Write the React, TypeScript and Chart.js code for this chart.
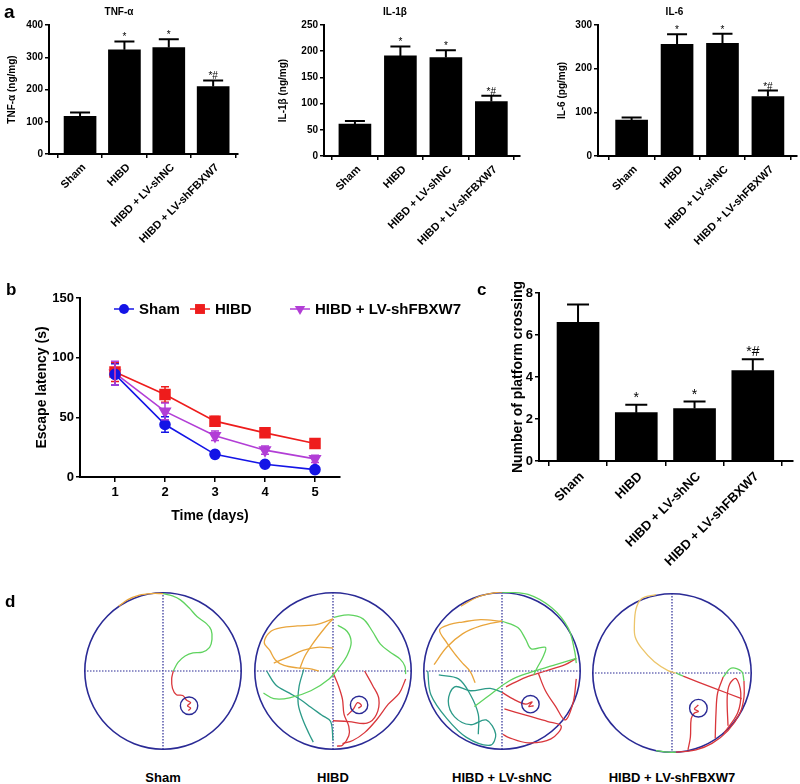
import React, { useEffect, useRef } from 'react';
import { Chart, registerables } from 'chart.js';

Chart.register(...registerables);

const FONT = "'Liberation Sans', Arial, Helvetica, sans-serif";
Chart.defaults.font.family = FONT;
Chart.defaults.color = '#000';

// ---------------- data ----------------
const groups = ['Sham', 'HIBD', 'HIBD + LV-shNC', 'HIBD + LV-shFBXW7'];
const sigMarks = ['', '*', '*', '*#'];

const tnfMean = [117, 323, 330, 209];
const tnfSem = [12, 26, 26, 19];
const il1Mean = [61, 191, 188, 104];
const il1Sem = [6, 18, 14, 11];
const il6Mean = [82, 256, 258, 136];
const il6Sem = [6, 23, 22, 14];

const days = [1, 2, 3, 4, 5];
const latencySeries = ['Sham', 'HIBD', 'HIBD + LV-shFBXW7'];
const shamLatency = [86, 44, 19, 10.7, 6.2];
const shamLatencySem = [9, 6.5, 1.5, 1.5, 1];
const hibdLatency = [88, 69.2, 46.8, 37, 28];
const hibdLatencySem = [8, 6.5, 4, 3, 3.5];
const fbxLatency = [87, 55, 34.5, 22.5, 15.2];
const fbxLatencySem = [10, 7, 4, 3.5, 3];

const crossMean = [6.6, 2.3, 2.5, 4.3];
const crossSem = [0.85, 0.38, 0.33, 0.55];

// swim tracks (normalised pool coordinates, radius 1)
const shamOrange = [[-0.56, 0.82], [-0.45, 0.9], [-0.3, 0.96], [-0.15, 0.98], [0, 0.98]];
const shamGreen = [[0, 0.98], [0.12, 0.95], [0.22, 0.9], [0.33, 0.8], [0.43, 0.69], [0.55, 0.6], [0.61, 0.52], [0.62, 0.4], [0.59, 0.3], [0.5, 0.24], [0.38, 0.23], [0.28, 0.19], [0.19, 0.11], [0.13, 0]];
const shamRed = [[0.13, 0], [0.11, -0.1], [0.12, -0.22], [0.17, -0.3], [0.25, -0.31], [0.3, -0.37], [0.35, -0.4], [0.31, -0.44], [0.35, -0.47], [0.32, -0.5]];
const shamTarget = [0.33, -0.44];

const hibdOrangeA = [[0, 0.66], [-0.2, 0.59], [-0.45, 0.57], [-0.65, 0.55], [-0.79, 0.5], [-0.87, 0.36], [-0.8, 0.26], [-0.73, 0.14], [-0.62, 0.07], [-0.45, 0.04], [-0.3, 0.03], [-0.18, 0]];
const hibdOrangeB = [[-0.75, 0.1], [-0.56, 0.18], [-0.38, 0.26], [-0.2, 0.3], [0, 0.29]];
const hibdOrangeC = [[-0.42, 0.03], [-0.36, 0.18], [-0.26, 0.34], [-0.14, 0.5], [-0.04, 0.62], [0, 0.66]];
const hibdGreenA = [[0.01, 0.68], [0.2, 0.71], [0.38, 0.66], [0.5, 0.5], [0.6, 0.34], [0.72, 0.24], [0.85, 0.15], [0.91, 0.06], [0.92, -0.04]];
const hibdGreenB = [[0.06, 0.58], [0.18, 0.5], [0.23, 0.36], [0.18, 0.2], [0.08, 0.05], [-0.05, -0.1], [-0.28, -0.25], [-0.55, -0.34], [-0.75, -0.35], [-0.88, -0.28]];
const hibdTealA = [[-0.84, 0], [-0.72, -0.18], [-0.55, -0.28], [-0.4, -0.37], [-0.28, -0.46], [-0.14, -0.56], [-0.03, -0.64], [0, -0.88]];
const hibdTealB = [[-0.37, 0.02], [-0.43, -0.2], [-0.44, -0.42], [-0.38, -0.62], [-0.3, -0.8], [-0.25, -0.9]];
const hibdRedA = [[0, -0.02], [0.07, -0.19], [0.12, -0.36], [0.14, -0.55], [0.2, -0.7], [0.2, -0.82], [0.12, -0.94], [0.05, -0.95]];
const hibdRedB = [[0, -0.63], [0.2, -0.64], [0.43, -0.66], [0.55, -0.55], [0.58, -0.35], [0.5, -0.18], [0.4, 0]];
const hibdRedC = [[0.92, -0.1], [0.84, -0.28], [0.7, -0.42], [0.55, -0.62], [0.4, -0.78], [0.25, -0.88], [0.12, -0.92]];
const hibdRedD = [[0.18, -0.56], [0.26, -0.48], [0.31, -0.4], [0.36, -0.44], [0.32, -0.47]];
const hibdTarget = [0.33, -0.43];

const ncOrangeA = [[-0.52, 0.82], [-0.3, 0.94], [-0.1, 0.99], [0, 1]];
const ncOrangeB = [[0, 0.63], [-0.27, 0.65], [-0.5, 0.62], [-0.66, 0.59], [-0.79, 0.52], [-0.7, 0.36], [-0.6, 0.22], [-0.5, 0.1], [-0.4, -0.01], [-0.34, -0.15]];
const ncOrangeC = [[0, 0.63], [-0.27, 0.57], [-0.5, 0.47], [-0.7, 0.3], [-0.86, 0.08]];
const ncGreenA = [[0, 1], [0.33, 0.97], [0.63, 0.8], [0.84, 0.54], [0.92, 0.25], [0.94, 0.1]];
const ncGreenB = [[0, 0.63], [0.2, 0.55], [0.3, 0.4], [0.37, 0.28], [0.55, 0.3], [0.52, 0.18], [0.45, 0.05], [0.4, -0.05]];
const ncGreenC = [[0.94, 0.16], [0.65, 0.07], [0.35, -0.02], [0.1, -0.12], [-0.15, -0.3], [-0.35, -0.45]];
const ncTealA = [[-0.94, 0], [-0.9, -0.3], [-0.7, -0.6], [-0.45, -0.84], [-0.15, -0.94], [-0.08, -0.8], [-0.2, -0.62], [-0.4, -0.68], [-0.6, -0.58], [-0.68, -0.38], [-0.6, -0.2], [-0.4, -0.25], [-0.15, -0.22], [0, -0.27]];
const ncTealB = [[-0.8, -0.05], [-0.55, -0.1], [-0.4, -0.3], [-0.3, -0.55], [-0.3, -0.8]];
const ncRedA = [[0, -0.27], [0.15, -0.36], [0.3, -0.42], [0.38, -0.39], [0.34, -0.45], [0.4, -0.44]];
const ncRedB = [[0.46, -0.03], [0.55, -0.25], [0.68, -0.45], [0.8, -0.62], [0.9, -0.4], [0.94, -0.1]];
const ncRedC = [[0.03, -0.48], [0.3, -0.56], [0.58, -0.64], [0.75, -0.7], [0.62, -0.86], [0.33, -0.91], [0.08, -0.84], [0.01, -0.8]];
const ncRedD = [[0.05, -0.2], [0.3, -0.08], [0.55, 0], [0.8, 0.08], [0.94, 0.16]];
const ncTarget = [0.36, -0.42];

const fbOrange = [[-0.2, 0.98], [-0.38, 0.93], [-0.45, 0.8], [-0.47, 0.6], [-0.46, 0.45], [-0.38, 0.31], [-0.22, 0.14], [-0.05, 0.03], [0.05, 0]];
const fbGreenA = [[0.05, 0], [0.14, -0.04]];
const fbRedA = [[0.14, -0.04], [0.5, -0.18], [0.87, -0.32]];
const fbRedB = [[0.54, -0.82], [0.55, -0.5], [0.57, -0.25], [0.64, -0.05]];
const fbGreenB = [[0.64, -0.05], [0.74, 0.06], [0.87, 0.02], [0.9, -0.1]];
const fbRedC = [[0.9, -0.1], [0.9, -0.3], [0.85, -0.5], [0.7, -0.72], [0.5, -0.88], [0.3, -0.96], [0.05, -0.99]];
const fbRedD = [[0.7, -0.66], [0.69, -0.3], [0.72, -0.14], [0.8, -0.07], [0.86, -0.25], [0.82, -0.5], [0.65, -0.75]];
const fbRedE = [[0.33, -0.4], [0.28, -0.45], [0.33, -0.48], [0.28, -0.5], [0.24, -0.57], [0.23, -0.8], [0.2, -0.96]];
const fbGreenC = [[-0.2, -0.97], [-0.05, -0.99], [0.05, -0.99]];
const fbTarget = [0.33, -0.44];
const targetRadius = 0.11;

// ---------------- styles ----------------
const BLUE = '#1414e6';
const RED = '#ee1c1c';
const PURPLE = '#b23ed6';
const NAVY = '#2a2a95';
const ORANGE = '#e9a53c';
const PALE = '#ecc56a';
const GREEN = '#5fd35f';
const TEAL = '#2c9a88';
const TRACKRED = '#d9363b';

const bold = (size: number) => ({ family: FONT, size, weight: 'bold' as const });

// ---------------- plugins ----------------
const barErrPlugin = {
  id: 'barErr',
  afterDatasetsDraw(chart: any, _a: any, opts: any) {
    if (!opts || !opts.sem) return;
    const ctx = chart.ctx;
    const ys = chart.scales.y;
    const meta = chart.getDatasetMeta(0);
    const data = chart.data.datasets[0].data;
    ctx.save();
    ctx.strokeStyle = '#000';
    ctx.fillStyle = '#000';
    ctx.lineWidth = opts.lineWidth;
    meta.data.forEach((bar: any, i: number) => {
      const top = ys.getPixelForValue(data[i].y + opts.sem[i]);
      const x = bar.x;
      ctx.beginPath();
      ctx.moveTo(x, bar.y);
      ctx.lineTo(x, top);
      ctx.moveTo(x - opts.cap, top);
      ctx.lineTo(x + opts.cap, top);
      ctx.stroke();
      const m = opts.marks[i];
      if (m) {
        ctx.font = `${opts.markFont}px ${FONT}`;
        ctx.textAlign = 'center';
        ctx.textBaseline = 'alphabetic';
        ctx.fillText(m, x, top - opts.markGap);
      }
    });
    ctx.restore();
  },
};

const lineErrPlugin = {
  id: 'lineErr',
  afterDatasetsDraw(chart: any, _a: any, opts: any) {
    if (!opts || !opts.sems) return;
    const ctx = chart.ctx;
    const ys = chart.scales.y;
    ctx.save();
    chart.data.datasets.forEach((ds: any, di: number) => {
      const meta = chart.getDatasetMeta(di);
      ctx.strokeStyle = ds.borderColor;
      ctx.lineWidth = 1.5;
      meta.data.forEach((pt: any, i: number) => {
        const v = ds.data[i].y;
        const s = opts.sems[di][i];
        const t = ys.getPixelForValue(v + s);
        const b = ys.getPixelForValue(v - s);
        ctx.beginPath();
        ctx.moveTo(pt.x, t);
        ctx.lineTo(pt.x, b);
        ctx.moveTo(pt.x - opts.cap, t);
        ctx.lineTo(pt.x + opts.cap, t);
        ctx.moveTo(pt.x - opts.cap, b);
        ctx.lineTo(pt.x + opts.cap, b);
        ctx.stroke();
      });
    });
    ctx.restore();
  },
};

function drawMarker(ctx: any, style: string, x: number, y: number, r: number) {
  ctx.beginPath();
  if (style === 'circle') {
    ctx.arc(x, y, r, 0, Math.PI * 2);
  } else if (style === 'rect') {
    const s = r * Math.SQRT1_2;
    ctx.rect(x - s, y - s, 2 * s, 2 * s);
  } else {
    ctx.moveTo(x - r * 0.87, y - r * 0.5);
    ctx.lineTo(x + r * 0.87, y - r * 0.5);
    ctx.lineTo(x, y + r);
    ctx.closePath();
  }
  ctx.fill();
}

const customLegendPlugin = {
  id: 'customLegend',
  afterDraw(chart: any, _a: any, opts: any) {
    if (!opts || !opts.xs) return;
    const ctx = chart.ctx;
    ctx.save();
    chart.data.datasets.forEach((ds: any, i: number) => {
      const mx = opts.xs[i];
      const y = opts.y;
      ctx.strokeStyle = ds.borderColor;
      ctx.fillStyle = ds.borderColor;
      ctx.lineWidth = 1.5;
      ctx.beginPath();
      ctx.moveTo(mx - 10, y);
      ctx.lineTo(mx + 10, y);
      ctx.stroke();
      drawMarker(ctx, ds.pointStyle === 'triangle' ? 'tri' : ds.pointStyle, mx, y, ds.pointRadius);
      ctx.fillStyle = '#000';
      ctx.font = `bold ${opts.fontSize}px ${FONT}`;
      ctx.textAlign = 'left';
      ctx.textBaseline = 'middle';
      ctx.fillText(ds.label, mx + 15, y + 1);
    });
    ctx.restore();
  },
};

const poolPlugin = {
  id: 'pool',
  beforeDatasetsDraw(chart: any, _a: any, opts: any) {
    const ctx = chart.ctx;
    const xs = chart.scales.x;
    const ys = chart.scales.y;
    const cx = xs.getPixelForValue(0);
    const cy = ys.getPixelForValue(0);
    const rx = xs.getPixelForValue(1) - cx;
    const ry = cy - ys.getPixelForValue(1);
    ctx.save();
    ctx.strokeStyle = NAVY;
    ctx.lineWidth = 1.2;
    ctx.setLineDash([1.5, 1.5]);
    ctx.beginPath();
    ctx.moveTo(xs.getPixelForValue(-1), cy);
    ctx.lineTo(xs.getPixelForValue(1), cy);
    ctx.moveTo(cx, ys.getPixelForValue(1));
    ctx.lineTo(cx, ys.getPixelForValue(-1));
    ctx.stroke();
    ctx.setLineDash([]);
    ctx.lineWidth = 1.6;
    ctx.beginPath();
    ctx.ellipse(cx, cy, rx - 0.8, ry - 0.8, 0, 0, Math.PI * 2);
    ctx.stroke();
    ctx.restore();
  },
  afterDatasetsDraw(chart: any, _a: any, opts: any) {
    if (!opts || !opts.target) return;
    const ctx = chart.ctx;
    const xs = chart.scales.x;
    const ys = chart.scales.y;
    const tx = xs.getPixelForValue(opts.target[0]);
    const ty = ys.getPixelForValue(opts.target[1]);
    const tr = xs.getPixelForValue(opts.radius) - xs.getPixelForValue(0);
    ctx.save();
    ctx.strokeStyle = NAVY;
    ctx.lineWidth = 1.4;
    ctx.beginPath();
    ctx.arc(tx, ty, tr, 0, Math.PI * 2);
    ctx.stroke();
    ctx.restore();
  },
};

// ---------------- configs ----------------
function barConfig(s: any) {
  return {
    type: 'bar',
    data: {
      datasets: [
        {
          data: s.mean.map((v: number, i: number) => ({ x: i, y: v })),
          backgroundColor: '#000',
          borderWidth: 0,
          barThickness: s.barThickness,
        },
      ],
    },
    options: {
      animation: false,
      responsive: false,
      layout: { padding: { left: 0, right: s.padRight, top: s.padTop, bottom: 0 } },
      plugins: {
        legend: { display: false },
        tooltip: { enabled: false },
        title: s.title
          ? {
              display: true,
              text: s.title,
              font: bold(s.titleFont),
              color: '#000',
              padding: { top: s.titlePadTop, bottom: s.titlePadBottom },
            }
          : { display: false },
        barErr: {
          sem: s.sem,
          marks: sigMarks,
          cap: s.cap,
          markFont: s.markFont,
          markGap: s.markGap,
          lineWidth: s.errWidth,
        },
      },
      scales: {
        x: {
          type: 'linear',
          min: s.xMin,
          max: s.xMax,
          offset: false,
          grid: {
            display: true,
            drawOnChartArea: false,
            drawTicks: true,
            tickLength: s.xTickLen,
            color: '#000',
            lineWidth: 1.5,
          },
          border: { display: true, color: '#000', width: s.axisWidth },
          ticks: {
            stepSize: 1,
            includeBounds: false,
            autoSkip: false,
            minRotation: 45,
            maxRotation: 45,
            font: bold(s.labelFont),
            color: '#000',
            padding: s.labelPad,
            labelOffset: s.labelOffset,
            callback: (v: any) => (groups[v] !== undefined ? groups[v] : ''),
          },
          afterFit: (sc: any) => {
            sc.height = s.xHeight;
          },
        },
        y: {
          min: 0,
          max: s.yMax,
          ticks: { stepSize: s.yStep, font: bold(s.tickFont), color: '#000', padding: 2 },
          grid: {
            display: true,
            drawOnChartArea: false,
            drawTicks: true,
            tickLength: 4,
            color: '#000',
            lineWidth: 1.5,
          },
          border: { display: true, color: '#000', width: s.axisWidth },
          title: {
            display: true,
            text: s.yTitle,
            font: bold(s.yTitleFont),
            color: '#000',
            padding: { top: s.yTitlePad, bottom: 0 },
          },
          afterFit: (sc: any) => {
            sc.width = s.yWidth;
          },
        },
      },
    },
    plugins: [barErrPlugin],
  };
}

function lineConfig() {
  const mk = (label: string, vals: number[], color: string, style: string, r: number, rot: number) => ({
    label,
    data: days.map((d, i) => ({ x: d, y: vals[i] })),
    borderColor: color,
    backgroundColor: color,
    pointBackgroundColor: color,
    pointBorderColor: color,
    pointStyle: style,
    pointRadius: r,
    pointRotation: rot,
    borderWidth: 1.6,
    tension: 0,
  });
  return {
    type: 'line',
    data: {
      datasets: [
        mk(latencySeries[0], shamLatency, BLUE, 'circle', 5, 0),
        mk(latencySeries[1], hibdLatency, RED, 'rect', 7, 0),
        mk(latencySeries[2], fbxLatency, PURPLE, 'triangle', 6, 180),
      ],
    },
    options: {
      animation: false,
      responsive: false,
      layout: { padding: { left: 0, right: 130, top: 28, bottom: 0 } },
      plugins: {
        legend: { display: false },
        tooltip: { enabled: false },
        lineErr: { sems: [shamLatencySem, hibdLatencySem, fbxLatencySem], cap: 4 },
        customLegend: { xs: [124, 200, 300], y: 39, fontSize: 15 },
      },
      scales: {
        x: {
          type: 'linear',
          min: 0.3,
          max: 5.5,
          grid: { display: true, drawOnChartArea: false, tickLength: 5, color: '#000', lineWidth: 1.5 },
          border: { display: true, color: '#000', width: 2 },
          ticks: { stepSize: 1, includeBounds: false, font: bold(13), color: '#000', padding: 3 },
          title: { display: true, text: 'Time (days)', font: bold(14), color: '#000', padding: { top: 0, bottom: 5 } },
          afterFit: (sc: any) => {
            sc.height = 53;
          },
        },
        y: {
          min: 0,
          max: 150,
          grid: { display: true, drawOnChartArea: false, tickLength: 4, color: '#000', lineWidth: 1.5 },
          border: { display: true, color: '#000', width: 2 },
          ticks: { stepSize: 50, font: bold(13), color: '#000', padding: 2 },
          title: { display: true, text: 'Escape latency (s)', font: bold(14), color: '#000', padding: { top: 34, bottom: 0 } },
          afterFit: (sc: any) => {
            sc.width = 80;
          },
        },
      },
    },
    plugins: [lineErrPlugin, customLegendPlugin],
  };
}

function trackConfig(segments: any[], target: number[]) {
  return {
    type: 'scatter',
    data: {
      datasets: segments.map((s) => ({
        data: s.pts.map((p: number[]) => ({ x: p[0], y: p[1] })),
        showLine: true,
        borderColor: s.color,
        borderWidth: 1.3,
        pointRadius: 0,
        tension: 0.35,
        fill: false,
      })),
    },
    options: {
      animation: false,
      responsive: false,
      layout: { padding: 3 },
      plugins: {
        legend: { display: false },
        tooltip: { enabled: false },
        pool: { target, radius: targetRadius },
      },
      scales: {
        x: { type: 'linear', min: -1, max: 1, display: false },
        y: { type: 'linear', min: -1, max: 1, display: false },
      },
    },
    plugins: [poolPlugin],
  };
}

// ---------------- components ----------------
function ChartBox({ left, top, width, height, make }: any) {
  const ref = useRef<HTMLCanvasElement | null>(null);
  useEffect(() => {
    const c = new Chart(ref.current as any, make());
    return () => c.destroy();
  }, []);
  return (
    <canvas
      ref={ref}
      width={width}
      height={height}
      style={{ position: 'absolute', left, top, width, height }}
    />
  );
}

function Txt({ text, x, baseline, size, center }: any) {
  return (
    <div
      style={{
        position: 'absolute',
        left: x,
        top: baseline - 0.8465 * size,
        fontFamily: FONT,
        fontWeight: 'bold',
        fontSize: size,
        lineHeight: `${size}px`,
        whiteSpace: 'nowrap',
        transform: center ? 'translateX(-50%)' : undefined,
        color: '#000',
      }}
    >
      {text}
    </div>
  );
}

const pools = [
  {
    label: groups[0], cx: 163, cy: 670.5, r: 79, target: shamTarget,
    segs: [
      { pts: shamOrange, color: ORANGE },
      { pts: shamGreen, color: GREEN },
      { pts: shamRed, color: TRACKRED },
    ],
  },
  {
    label: groups[1], cx: 333, cy: 670.5, r: 79, target: hibdTarget,
    segs: [
      { pts: hibdOrangeA, color: ORANGE },
      { pts: hibdOrangeB, color: ORANGE },
      { pts: hibdOrangeC, color: ORANGE },
      { pts: hibdGreenA, color: GREEN },
      { pts: hibdGreenB, color: GREEN },
      { pts: hibdTealA, color: TEAL },
      { pts: hibdTealB, color: TEAL },
      { pts: hibdRedA, color: TRACKRED },
      { pts: hibdRedB, color: TRACKRED },
      { pts: hibdRedC, color: TRACKRED },
      { pts: hibdRedD, color: TRACKRED },
    ],
  },
  {
    label: groups[2], cx: 502, cy: 670.7, r: 79, target: ncTarget,
    segs: [
      { pts: ncOrangeA, color: ORANGE },
      { pts: ncOrangeB, color: ORANGE },
      { pts: ncOrangeC, color: ORANGE },
      { pts: ncGreenA, color: GREEN },
      { pts: ncGreenB, color: GREEN },
      { pts: ncGreenC, color: GREEN },
      { pts: ncTealA, color: TEAL },
      { pts: ncTealB, color: TEAL },
      { pts: ncRedA, color: TRACKRED },
      { pts: ncRedB, color: TRACKRED },
      { pts: ncRedC, color: TRACKRED },
      { pts: ncRedD, color: TRACKRED },
    ],
  },
  {
    label: groups[3], cx: 672, cy: 672.7, r: 80, target: fbTarget,
    segs: [
      { pts: fbOrange, color: PALE },
      { pts: fbGreenA, color: GREEN },
      { pts: fbRedA, color: TRACKRED },
      { pts: fbRedB, color: TRACKRED },
      { pts: fbGreenB, color: GREEN },
      { pts: fbRedC, color: TRACKRED },
      { pts: fbRedD, color: TRACKRED },
      { pts: fbRedE, color: TRACKRED },
      { pts: fbGreenC, color: GREEN },
    ],
  },
];

const common = {
  titleFont: 10, titlePadTop: 6, titlePadBottom: 7, tickFont: 10, labelFont: 11, yTitleFont: 10,
  barThickness: 32, cap: 10, markFont: 10, markGap: 1, errWidth: 2, axisWidth: 2, xTickLen: 4,
  labelPad: 3, labelOffset: 4, padTop: 0, yStep: 100,
};

export default function App() {
  return (
    <div
      style={{
        position: 'absolute',
        left: 0,
        top: 0,
        width: 800,
        height: 784,
        overflow: 'hidden',
        background: '#fff',
      }}
    >
      <ChartBox
        left={0} top={0} width={246} height={250}
        make={() => barConfig({
          ...common, mean: tnfMean, sem: tnfSem, yMax: 400, title: 'TNF-α', yTitle: 'TNF-α (ng/mg)',
          yWidth: 49, xHeight: 96, padRight: 8, yTitlePad: 6, xMin: -0.7, xMax: 3.56,
        })}
      />
      <ChartBox
        left={270} top={0} width={260} height={250}
        make={() => barConfig({
          ...common, mean: il1Mean, sem: il1Sem, yMax: 250, yStep: 50, title: 'IL-1β', yTitle: 'IL-1β (ng/mg)',
          yWidth: 54, xHeight: 94, padRight: 10, yTitlePad: 7, xMin: -0.68, xMax: 3.63,
        })}
      />
      <ChartBox
        left={552} top={0} width={250} height={250}
        make={() => barConfig({
          ...common, mean: il6Mean, sem: il6Sem, yMax: 300, title: 'IL-6', yTitle: 'IL-6 (pg/mg)',
          yWidth: 46, xHeight: 94, padRight: 5, yTitlePad: 4, xMin: -0.74, xMax: 3.64,
        })}
      />
      <ChartBox left={0} top={270} width={470} height={260} make={lineConfig} />
      <ChartBox
        left={400} top={270} width={400} height={300}
        make={() => barConfig({
          mean: crossMean, sem: crossSem, yMax: 8, yStep: 2, yTitle: 'Number of platform crossing',
          tickFont: 13, labelFont: 13, yTitleFont: 14, barThickness: 42, cap: 11, markFont: 14, markGap: 3,
          errWidth: 2, axisWidth: 2, xTickLen: 5, labelPad: 3, labelOffset: 4, padTop: 23,
          yWidth: 139, xHeight: 109, padRight: 7, yTitlePad: 110, xMin: -0.67, xMax: 3.69,
        })}
      />
      {pools.map((p, i) => (
        <ChartBox
          key={i}
          left={p.cx - p.r - 3}
          top={p.cy - p.r - 3}
          width={2 * p.r + 6}
          height={2 * p.r + 6}
          make={() => trackConfig(p.segs, p.target)}
        />
      ))}
      {pools.map((p, i) => (
        <Txt key={'l' + i} text={p.label} x={p.cx} baseline={782.5} size={13} center />
      ))}
      <Txt text="a" x={4} baseline={18} size={19} />
      <Txt text="b" x={6} baseline={295} size={17} />
      <Txt text="c" x={477} baseline={295} size={17} />
      <Txt text="d" x={5} baseline={607} size={17} />
    </div>
  );
}
